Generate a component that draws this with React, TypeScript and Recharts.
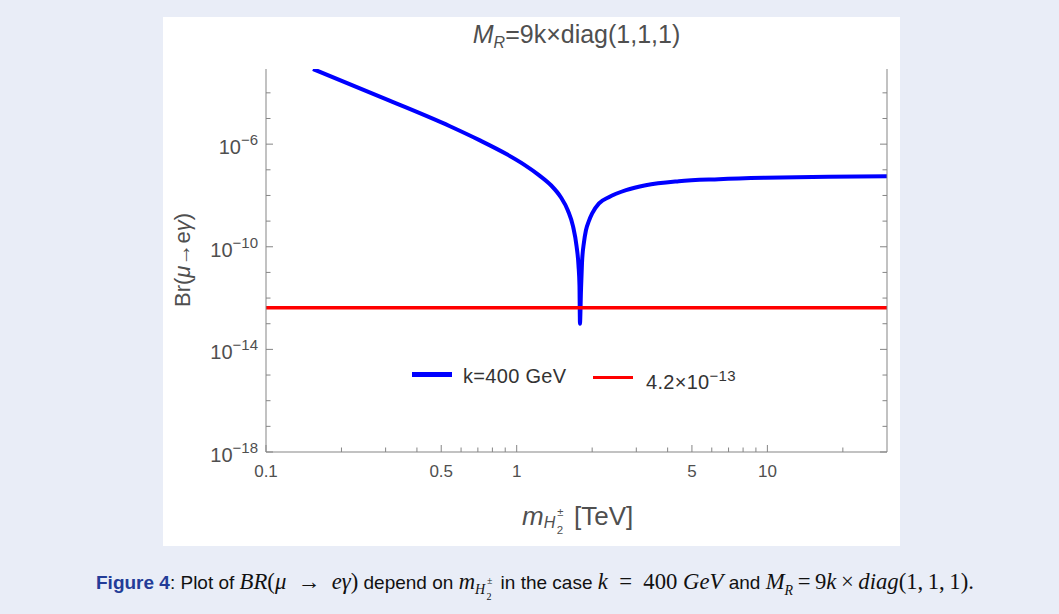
import React from "react";
import { LineChart, Line, XAxis, YAxis } from "recharts";

// blue curve (m in TeV)
const masses = [
    0.154, 0.311, 0.539, 0.71, 0.91, 1.07, 1.23, 1.37, 1.5, 1.6, 1.678, 1.732, 1.764, 1.78, 1.788,
    1.805, 1.822, 1.855, 1.889, 1.94, 2.0, 2.13, 2.33, 2.73, 3.27, 4.43, 6.4, 9.8, 17.5, 30,
];
const brK400 = [
    8.5e-4, 5.0e-5, 5.1e-6, 1.43e-6, 4.1e-7, 1.6e-7, 6.1e-8, 2.5e-8, 8.5e-9, 2.6e-9, 6.2e-10, 1.1e-10, 1.9e-11, 3.1e-12, 1.0e-13,
    2.0e-12, 2.4e-11, 1.5e-10, 4.4e-10, 1.0e-9, 2.0e-9, 4.9e-9, 8.5e-9, 1.6e-8, 2.5e-8, 3.6e-8, 4.3e-8, 4.9e-8, 5.4e-8, 5.6e-8,
];

// experimental bound
const limitMasses = [0.1, 30];
const limitBr = 4.2e-13;

const xTicks = [0.1, 0.2, 0.3, 0.4, 0.5, 0.6, 0.7, 0.8, 0.9, 1, 2, 3, 4, 5, 6, 7, 8, 9, 10, 20];
const xTickLabels = ["0.1", "0.5", "1", "5", "10"];
const yExponents = [-18, -17, -16, -15, -14, -13, -12, -11, -10, -9, -8, -7, -6, -5, -4];
const yLabelExponents = [-18, -14, -10, -6];

const X_DOMAIN = [0.1, 30];
const Y_DOMAIN = [1e-18, 8.5e-4];
const FRAME = "#858585";
const TXT = "#4f4f4f";
const FONT = "'Liberation Sans', Arial, sans-serif";
const SERIF = "'Liberation Serif', 'Times New Roman', serif";

const rows = masses.map((m, i) => ({ m, br: brK400[i] }));
const limitRows = limitMasses.map((m) => ({ m, limit: limitBr }));
const yTicks = yExponents.map((e) => Math.pow(10, e));

const isMajorX = (v: number) => xTickLabels.some((l) => Number(l) === v);
const expOf = (v: number) => Math.round(Math.log10(v));

function BottomTick({ x, y, payload }: any) {
    const v = payload.value;
    const major = isMajorX(v);
    return (
        <g>
            <line x1={x} x2={x} y1={y} y2={y - (major ? 7 : 4.5)} stroke={FRAME} />
            {major && (
                <text x={x} y={y + 25} textAnchor="middle" fill={TXT} fontSize={17} fontFamily={FONT}>
                    {String(v)}
                </text>
            )}
        </g>
    );
}

function TopTick({ x, y, payload }: any) {
    const major = isMajorX(payload.value);
    return <line x1={x} x2={x} y1={y} y2={y + (major ? 7 : 4.5)} stroke={FRAME} />;
}

function LeftTick({ x, y, payload }: any) {
    const e = expOf(payload.value);
    const major = yLabelExponents.includes(e);
    return (
        <g>
            <line x1={x} x2={x + (major ? 7 : 4.5)} y1={y} y2={y} stroke={FRAME} />
            {major && (
                <text x={x - 8} y={y + 10} textAnchor="end" fill={TXT} fontSize={20} fontFamily={FONT}>
                    <tspan>10</tspan>
                    <tspan dy={-9} fontSize={15}>{"\u2212" + Math.abs(e)}</tspan>
                </text>
            )}
        </g>
    );
}

function RightTick({ x, y, payload }: any) {
    const major = yLabelExponents.includes(expOf(payload.value));
    return <line x1={x} x2={x - (major ? 7 : 4.5)} y1={y} y2={y} stroke={FRAME} />;
}

const abs = (left: number, top: number, extra: React.CSSProperties = {}): React.CSSProperties => ({
    position: "absolute",
    left,
    top,
    whiteSpace: "nowrap",
    ...extra,
});

// H with ± above and 2 below, as a subscript
function StackedH({ size, drop }: { size: number; drop: number }) {
    return (
        <span style={{ position: "relative", display: "inline-block", fontSize: size, lineHeight: 1, top: drop, width: size * 1.45 }}>
            <i>H</i>
            <span style={{ position: "absolute", left: size * 0.85, top: -size * 0.5, fontSize: size * 0.7, lineHeight: 1 }}>±</span>
            <span style={{ position: "absolute", left: size * 0.82, top: size * 0.62, fontSize: size * 0.72, lineHeight: 1 }}>2</span>
        </span>
    );
}

const serif: React.CSSProperties = { fontFamily: SERIF, fontSize: 22.7 };

export default function App() {
    return (
        <div style={{ position: "absolute", left: 0, top: 0, width: 1059, height: 614, background: "#e9edf7", overflow: "hidden" }}>
            <div style={abs(163, 17, { width: 737, height: 529, background: "#ffffff" })}>
                <LineChart width={737} height={529} margin={{ top: 52, right: 12, bottom: 0, left: 0 }}>
                    <XAxis
                        dataKey="m"
                        type="number"
                        scale="log"
                        domain={X_DOMAIN}
                        allowDataOverflow
                        ticks={xTicks}
                        interval={0}
                        tickSize={0}
                        tickMargin={0}
                        height={94}
                        stroke={FRAME}
                        tick={<BottomTick />}
                    />
                    <XAxis
                        xAxisId="top"
                        orientation="top"
                        dataKey="m"
                        type="number"
                        scale="log"
                        domain={X_DOMAIN}
                        allowDataOverflow
                        ticks={xTicks}
                        interval={0}
                        tickSize={0}
                        tickMargin={0}
                        height={0}
                        stroke={FRAME}
                        tick={<TopTick />}
                    />
                    <YAxis
                        type="number"
                        scale="log"
                        domain={Y_DOMAIN}
                        allowDataOverflow
                        ticks={yTicks}
                        interval={0}
                        tickSize={0}
                        tickMargin={0}
                        width={103}
                        stroke={FRAME}
                        tick={<LeftTick />}
                    />
                    <YAxis
                        yAxisId="right"
                        orientation="right"
                        type="number"
                        scale="log"
                        domain={Y_DOMAIN}
                        allowDataOverflow
                        ticks={yTicks}
                        interval={0}
                        tickSize={0}
                        tickMargin={0}
                        width={1}
                        stroke={FRAME}
                        tick={<RightTick />}
                    />
                    <Line
                        data={rows}
                        dataKey="br"
                        type="monotone"
                        stroke="#0000ff"
                        strokeWidth={4}
                        dot={false}
                        isAnimationActive={false}
                    />
                    <Line
                        data={limitRows}
                        dataKey="limit"
                        type="linear"
                        stroke="#ff0000"
                        strokeWidth={3.5}
                        dot={false}
                        isAnimationActive={false}
                    />
                </LineChart>
            </div>

            {/* title */}
            <div style={abs(266, 22, { width: 621, textAlign: "center", fontFamily: FONT, fontSize: 25, color: TXT, lineHeight: 1 })}>
                <i>M</i>
                <sub style={{ fontSize: 16, fontStyle: "italic", verticalAlign: -5 }}>R</sub>=9k×diag(1,1,1)
            </div>

            {/* y label */}
            <div style={abs(183 - 70, 260 - 13, { width: 140, textAlign: "center", fontFamily: FONT, fontSize: 22, color: TXT, lineHeight: "26px", transform: "rotate(-90deg)" })}>
                Br(<i>μ</i>→e<i>γ</i>)
            </div>

            {/* x label */}
            <div style={abs(522, 502, { fontFamily: FONT, fontSize: 26, color: TXT, lineHeight: "28px" })}>
                <i>m</i>
                <StackedH size={16} drop={3} /> [TeV]
            </div>

            {/* legend */}
            <div style={abs(412, 372, { width: 40, height: 4.5, background: "#0000ff" })} />
            <div style={abs(463, 365, { fontFamily: FONT, fontSize: 20, color: "#333", lineHeight: "22px", letterSpacing: 0.3 })}>k=400 GeV</div>
            <div style={abs(593, 375.5, { width: 40, height: 3.5, background: "#ff0000" })} />
            <div style={abs(646, 365, { fontFamily: FONT, fontSize: 20, color: "#333", lineHeight: "22px", letterSpacing: 0.3 })}>
                4.2×10<sup style={{ fontSize: 15, verticalAlign: 8 }}>−13</sup>
            </div>

            {/* caption */}
            <div style={abs(96, 569, { fontFamily: FONT, fontSize: 19, lineHeight: "26px", color: "#111" })}>
                <b style={{ color: "#233c98" }}>Figure 4</b>: Plot of{" "}
                <span style={serif}>
                    <i>BR</i>(<i>μ</i>&ensp;→&ensp;<i>eγ</i>)
                </span>{" "}
                depend on{" "}
                <span style={serif}>
                    <i>m</i>
                    <StackedH size={14} drop={5} />
                </span>{" "}
                in the case{" "}
                <span style={serif}>
                    <i>k</i>&ensp;=&ensp;400&nbsp;<i>GeV</i>
                </span>{" "}
                and{" "}
                <span style={serif}>
                    <i>M</i>
                    <sub style={{ fontSize: 14 }}>
                        <i>R</i>
                    </sub>
                    &thinsp;=&thinsp;9<i>k</i>&thinsp;×&thinsp;<i>diag</i>(1,&thinsp;1,&thinsp;1).
                </span>
            </div>
        </div>
    );
}
